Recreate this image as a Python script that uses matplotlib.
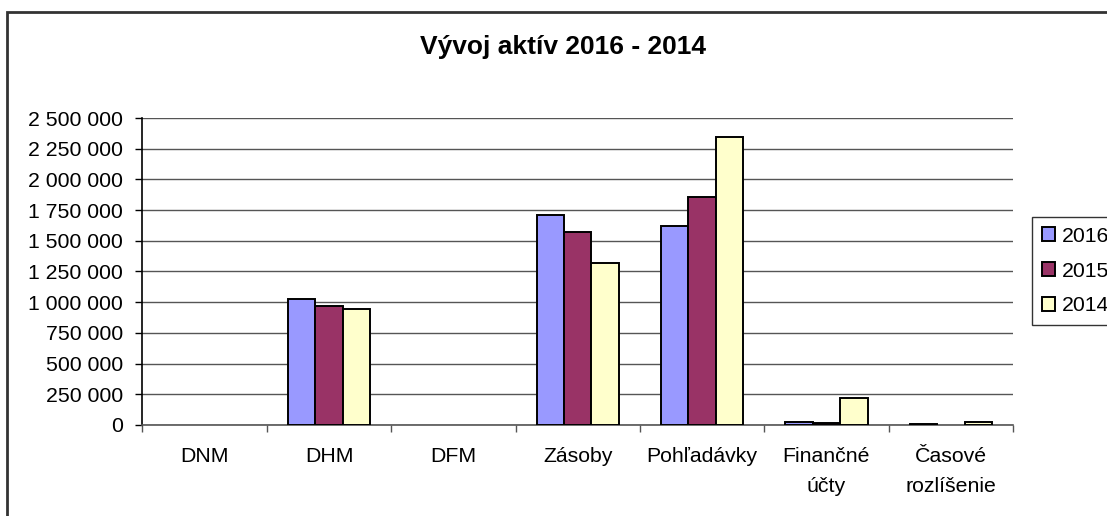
import matplotlib
matplotlib.use("Agg")
import matplotlib.pyplot as plt
import numpy as np
from matplotlib.patches import Rectangle
from matplotlib.ticker import FuncFormatter

plt.rcParams["font.family"] = ["Liberation Sans", "DejaVu Sans"]

categories = ["DNM", "DHM", "DFM", "Zásoby", "Pohľadávky", "Finančné\núčty", "Časové\nrozlíšenie"]
years = ["2016", "2015", "2014"]
values_2016 = [0, 1026000, 0, 1710000, 1620000, 22000, 6000]
values_2015 = [0, 969000, 0, 1572000, 1859000, 20000, 0]
values_2014 = [0, 945000, 0, 1319000, 2348000, 217000, 27000]
colors = ["#9999FF", "#993366", "#FFFFCC"]

fig = plt.figure(figsize=(11.07, 5.16), dpi=100)
ax = fig.add_axes([0.1287, 0.1764, 0.9151 - 0.1287, 0.7713 - 0.1764])

# outer chart frame, clipped at right and bottom like the source
fig.patches.append(Rectangle((0.0063, -0.05), 1.1, 0.9767 + 0.05, transform=fig.transFigure,
                             fill=False, edgecolor="#333333", linewidth=2))

x = np.arange(len(categories))
width = 0.22
series = [values_2016, values_2015, values_2014]
for i, (vals, col, year) in enumerate(zip(series, colors, years)):
    # empty values draw no bar at all
    heights = np.where(np.array(vals) == 0, np.nan, vals)
    ax.bar(x + (i - 1) * width, heights, width, color=col, edgecolor="black",
           linewidth=1.4, label=year, zorder=3)

ax.set_xlim(-0.5, len(categories) - 0.5)
ax.set_ylim(0, 2500000)
ax.set_yticks(np.arange(0, 2500001, 250000))
ax.yaxis.set_major_formatter(FuncFormatter(lambda v, _: f"{int(v):,}".replace(",", " ")))
ax.grid(axis="y", color="#555555", linewidth=1, zorder=0)

ax.set_xticks(x)
ax.set_xticklabels(categories, fontsize=15.3, linespacing=1.7)
ax.tick_params(axis="x", which="major", length=0, pad=16)
ax.set_xticks(np.arange(-0.5, len(categories), 1), minor=True)
ax.tick_params(axis="x", which="minor", length=5, width=1, color="#555555", direction="out")
ax.tick_params(axis="y", length=5, width=1, pad=9, labelsize=15.3)

for side in ("top", "right"):
    ax.spines[side].set_visible(False)
ax.spines["left"].set_linewidth(1.2)
ax.spines["bottom"].set_color("#555555")
ax.spines["bottom"].set_linewidth(1.2)

fig.text(0.5087, 0.909, "Vývoj aktív 2016 - 2014", ha="center", va="center",
         fontsize=19, fontweight="bold")

leg = fig.legend(loc="upper left", bbox_to_anchor=(1032 / 1107, 1 - 217 / 516),
                 fontsize=15.3, frameon=True, fancybox=False, edgecolor="black",
                 handlelength=0.65, handleheight=0.65, handletextpad=0.3,
                 labelspacing=0.75, borderpad=0.45, borderaxespad=0)
leg.get_frame().set_linewidth(1)

fig.savefig("out.png", dpi=100)
